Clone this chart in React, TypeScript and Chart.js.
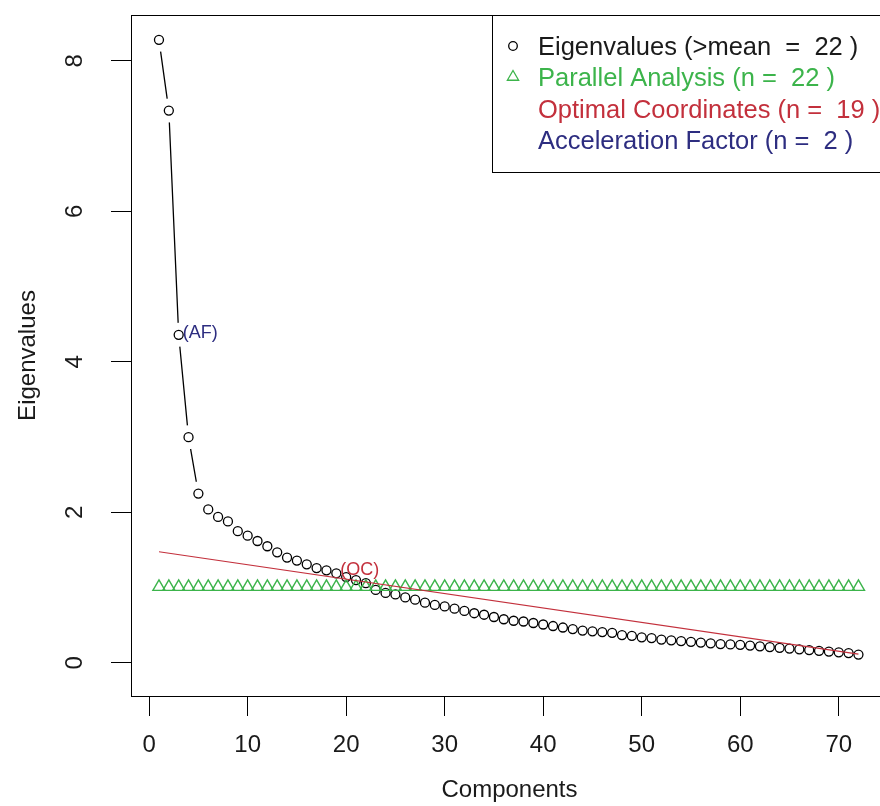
import React, { useEffect, useRef } from 'react';
import { Chart, registerables } from 'chart.js';

Chart.register(...registerables);

// ---- data ----
const components: number[] = Array.from({ length: 72 }, (_, i) => i + 1);
const eigenvalues: number[] = [
  8.28, 7.34, 4.36, 3.0, 2.25, 2.04, 1.94, 1.88, 1.75, 1.69,
  1.62, 1.55, 1.47, 1.4, 1.36, 1.31, 1.26, 1.23, 1.19, 1.14,
  1.1, 1.06, 0.97, 0.93, 0.91, 0.87, 0.84, 0.8, 0.77, 0.75,
  0.72, 0.69, 0.66, 0.64, 0.61, 0.58, 0.56, 0.55, 0.53, 0.51,
  0.49, 0.47, 0.45, 0.43, 0.42, 0.41, 0.4, 0.37, 0.36, 0.34,
  0.33, 0.31, 0.3, 0.29, 0.28, 0.27, 0.26, 0.25, 0.245, 0.24,
  0.23, 0.22, 0.21, 0.2, 0.19, 0.18, 0.17, 0.16, 0.15, 0.14, 0.13, 0.11,
];
const parallelAnalysis: number[] = [
  1.01, 1.01, 1.01, 1.01, 1.01, 1.01, 1.01, 1.01, 1.01, 1.01,
  1.01, 1.01, 1.01, 1.01, 1.01, 1.01, 1.01, 1.01, 1.01, 1.01,
  1.01, 1.01, 1.01, 1.01, 1.01, 1.01, 1.01, 1.01, 1.01, 1.01,
  1.01, 1.01, 1.01, 1.01, 1.01, 1.01, 1.01, 1.01, 1.01, 1.01,
  1.01, 1.01, 1.01, 1.01, 1.01, 1.01, 1.01, 1.01, 1.01, 1.01,
  1.01, 1.01, 1.01, 1.01, 1.01, 1.01, 1.01, 1.01, 1.01, 1.01,
  1.01, 1.01, 1.01, 1.01, 1.01, 1.01, 1.01, 1.01, 1.01, 1.01, 1.01, 1.01,
];
const ocLineX: number[] = [1, 72];
const ocLineY: number[] = [1.477, 0.117];
const afComponent = 3;
const ocComponent = 19;
const xTicks: number[] = [0, 10, 20, 30, 40, 50, 60, 70];
const yTicks: number[] = [0, 2, 4, 6, 8];
const legendLabels: string[] = [
  'Eigenvalues (>mean  =  22 )',
  'Parallel Analysis (n =  22 )',
  'Optimal Coordinates (n =  19 )',
  'Acceleration Factor (n =  2 )',
];

const BLACK = '#000000';
const TEXT = '#1a1a1a';
const GREEN = '#3cb44b';
const RED = '#c3303c';
const NAVY = '#2d2d80';
const FONT = "'Liberation Sans', Arial, sans-serif";

const framePlugin = {
  id: 'rframe',
  afterDraw(chart: any) {
    const ctx = chart.ctx as CanvasRenderingContext2D;
    const { left, right, top, bottom } = chart.chartArea;
    const xs = chart.scales.x;
    const ys = chart.scales.y;
    ctx.save();
    // plot box
    ctx.strokeStyle = BLACK;
    ctx.lineWidth = 1;
    ctx.strokeRect(Math.round(left) + 0.5, Math.round(top) + 0.5, Math.round(right - left), Math.round(bottom - top));

    // tick labels
    ctx.fillStyle = TEXT;
    ctx.font = `24px ${FONT}`;
    ctx.textAlign = 'center';
    ctx.textBaseline = 'middle';
    xTicks.forEach((v) => {
      ctx.fillText(String(v), xs.getPixelForValue(v), 745);
    });
    yTicks.forEach((v) => {
      ctx.save();
      ctx.translate(75, ys.getPixelForValue(v));
      ctx.rotate(-Math.PI / 2);
      ctx.fillText(String(v), 0, 0);
      ctx.restore();
    });
    // axis titles
    ctx.fillText('Components', (left + right) / 2, 790);
    ctx.save();
    ctx.translate(28, (top + bottom) / 2);
    ctx.rotate(-Math.PI / 2);
    ctx.fillText('Eigenvalues', 0, 0);
    ctx.restore();

    // point labels
    ctx.font = `18px ${FONT}`;
    ctx.textAlign = 'left';
    ctx.fillStyle = NAVY;
    ctx.fillText('(AF)', xs.getPixelForValue(afComponent) + 4, ys.getPixelForValue(eigenvalues[afComponent - 1]) - 2);
    ctx.fillStyle = RED;
    ctx.fillText('(OC)', xs.getPixelForValue(ocComponent) + 4, ys.getPixelForValue(eigenvalues[ocComponent - 1]) - 3);

    // legend
    const lx = 492;
    const ly = top;
    const lb = 172;
    ctx.fillStyle = '#ffffff';
    ctx.fillRect(lx, ly, right - lx, lb - ly);
    ctx.strokeStyle = BLACK;
    ctx.lineWidth = 1;
    ctx.strokeRect(lx + 0.5, Math.round(ly) + 0.5, Math.round(right - lx), lb - Math.round(ly));
    const rows = [48, 79, 110.5, 142];
    const colors = [TEXT, GREEN, RED, NAVY];
    ctx.font = `25.5px ${FONT}`;
    ctx.textBaseline = 'middle';
    legendLabels.forEach((t, i) => {
      ctx.fillStyle = colors[i];
      ctx.fillText(t, 538, rows[i]);
    });
    // legend symbols
    ctx.lineWidth = 1.3;
    ctx.strokeStyle = BLACK;
    ctx.beginPath();
    ctx.arc(513, rows[0] - 2, 4.3, 0, Math.PI * 2);
    ctx.stroke();
    ctx.strokeStyle = GREEN;
    ctx.lineWidth = 1.3;
    const r = 6.5;
    const cy = rows[1] - 2;
    ctx.beginPath();
    ctx.moveTo(513, cy - r);
    ctx.lineTo(513 + r * 0.866, cy + r / 2);
    ctx.lineTo(513 - r * 0.866, cy + r / 2);
    ctx.closePath();
    ctx.stroke();
    ctx.restore();
  },
};

export default function App() {
  const ref = useRef<HTMLCanvasElement | null>(null);
  useEffect(() => {
    if (!ref.current) return;
    const eigPts = components.map((c, i) => ({ x: c, y: eigenvalues[i] }));
    const paPts = components.map((c, i) => ({ x: c, y: parallelAnalysis[i] }));
    const ocPts = ocLineX.map((x, i) => ({ x, y: ocLineY[i] }));
    const chart = new Chart(ref.current, {
      type: 'scatter',
      data: {
        datasets: [
          { label: 'eigline', data: eigPts, showLine: true, borderColor: BLACK, borderWidth: 1.3, pointRadius: 0, order: 5 } as any,
          { label: 'gap', data: eigPts, showLine: false, pointRadius: 12, pointBackgroundColor: '#ffffff', pointBorderWidth: 0, pointBorderColor: '#ffffff', order: 4 } as any,
          { label: 'Eigenvalues', data: eigPts, showLine: false, pointRadius: 4.5, pointBorderColor: BLACK, pointBorderWidth: 1.3, pointBackgroundColor: 'rgba(0,0,0,0)', order: 3 } as any,
          { label: 'Parallel Analysis', data: paPts, showLine: false, pointStyle: 'triangle', pointRadius: 7, pointBorderColor: GREEN, pointBorderWidth: 1.4, pointBackgroundColor: 'rgba(0,0,0,0)', order: 2 } as any,
          { label: 'Optimal Coordinates', data: ocPts, showLine: true, borderColor: RED, borderWidth: 1.2, pointRadius: 0, order: 1 } as any,
        ],
      },
      options: {
        responsive: false,
        animation: false,
        events: [],
        layout: { padding: { top: 15, right: 8, left: 0, bottom: 0 } },
        plugins: { legend: { display: false }, tooltip: { enabled: false } },
        scales: {
          x: {
            type: 'linear',
            min: -1.84,
            max: 75,
            afterBuildTicks: (s: any) => { s.ticks = xTicks.map((v) => ({ value: v })); },
            afterFit: (s: any) => { s.height = 110; },
            ticks: { display: false },
            grid: { display: true, drawOnChartArea: false, drawTicks: true, tickLength: 20, color: BLACK, lineWidth: 1 },
            border: { display: true, color: BLACK, width: 1 },
          },
          y: {
            type: 'linear',
            min: -0.44,
            max: 8.61,
            afterBuildTicks: (s: any) => { s.ticks = yTicks.map((v) => ({ value: v })); },
            afterFit: (s: any) => { s.width = 131; },
            ticks: { display: false },
            grid: { display: true, drawOnChartArea: false, drawTicks: true, tickLength: 20, color: BLACK, lineWidth: 1 },
            border: { display: true, color: BLACK, width: 1 },
          },
        },
      } as any,
      plugins: [framePlugin],
    });
    return () => chart.destroy();
  }, []);
  return (
    <div style={{ position: 'fixed', left: 0, top: 0, width: 880, height: 806, overflow: 'hidden', background: '#ffffff' }}>
      <canvas ref={ref} width={900} height={806} style={{ display: 'block', width: 900, height: 806 }} />
    </div>
  );
}
